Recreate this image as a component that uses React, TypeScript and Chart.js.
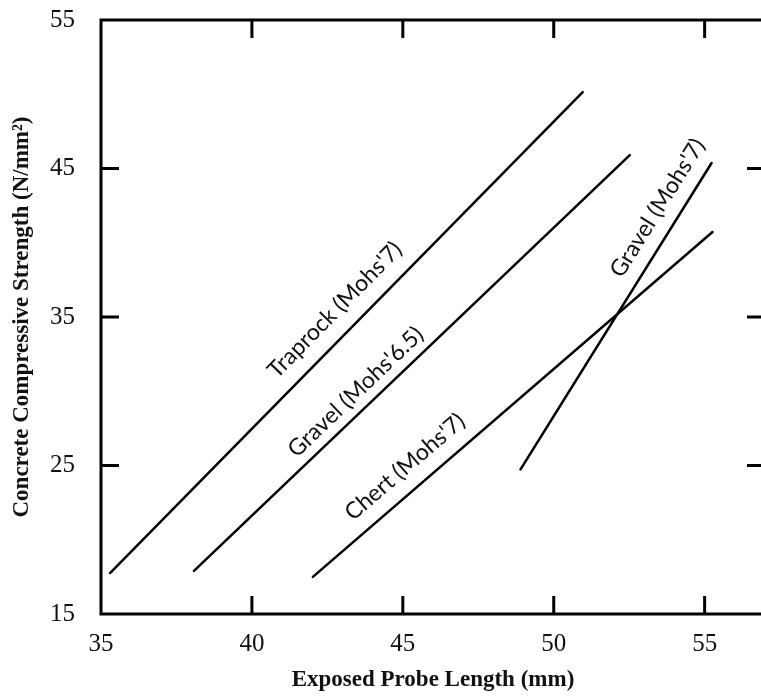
import React, { useEffect, useRef } from "react";
import { Chart, registerables } from "chart.js";

Chart.register(...registerables);

// ---- data ----
const seriesNames = ["Traprock (Mohs'7)", "Gravel (Mohs'6.5)", "Chert (Mohs'7)", "Gravel (Mohs'7)"];
const traprockX = [35.3, 50.96];
const traprockY = [17.76, 50.15];
const gravel65X = [38.08, 52.52];
const gravel65Y = [17.9, 45.9];
const chertX = [42.02, 55.26];
const chertY = [17.5, 40.72];
const gravel7X = [48.9, 55.23];
const gravel7Y = [24.74, 45.37];
const xTickValues = [35, 40, 45, 50, 55];
const yTickValues = [15, 25, 35, 45, 55];

// label anchors (data units) for the in-plot annotations
const labelAnchorX = [42.75, 43.44, 45.07, 53.44];
const labelAnchorY = [35.47, 29.95, 24.9, 42.34];

const seriesX = [traprockX, gravel65X, chertX, gravel7X];
const seriesY = [traprockY, gravel65Y, chertY, gravel7Y];

const serif = "'Liberation Serif', 'Times New Roman', serif";

const framePlugin = {
  id: "frame",
  afterDraw(chart: any) {
    const { ctx, chartArea } = chart;
    const xs = chart.scales.x;
    const ys = chart.scales.y;
    const { left, right, top, bottom } = chartArea;
    const tick = 18;
    ctx.save();
    ctx.strokeStyle = "#000";
    ctx.lineWidth = 3;
    ctx.lineCap = "butt";
    ctx.beginPath();
    ctx.moveTo(left, top);
    ctx.lineTo(right + 20, top);
    ctx.moveTo(left, top - 1.5);
    ctx.lineTo(left, bottom + 1.5);
    ctx.moveTo(left, bottom);
    ctx.lineTo(right + 20, bottom);
    xTickValues.forEach((v) => {
      if (v === xs.min || v === xs.max) return;
      const px = xs.getPixelForValue(v);
      ctx.moveTo(px, bottom);
      ctx.lineTo(px, bottom - tick);
      ctx.moveTo(px, top);
      ctx.lineTo(px, top + tick);
    });
    yTickValues.forEach((v) => {
      if (v === ys.min || v === ys.max) return;
      const py = ys.getPixelForValue(v);
      ctx.moveTo(left, py);
      ctx.lineTo(left + tick, py);
      ctx.moveTo(right, py);
      ctx.lineTo(right - tick, py);
    });
    ctx.stroke();

    // series annotations
    ctx.fillStyle = "#111";
    ctx.font = "23px Lato, 'Open Sans', sans-serif";
    ctx.textAlign = "center";
    ctx.textBaseline = "middle";
    seriesNames.forEach((name, i) => {
      const x0 = xs.getPixelForValue(seriesX[i][0]);
      const y0 = ys.getPixelForValue(seriesY[i][0]);
      const x1 = xs.getPixelForValue(seriesX[i][1]);
      const y1 = ys.getPixelForValue(seriesY[i][1]);
      const ang = Math.atan2(y1 - y0, x1 - x0);
      const ax = xs.getPixelForValue(labelAnchorX[i]);
      const ay = ys.getPixelForValue(labelAnchorY[i]);
      ctx.save();
      ctx.translate(ax, ay);
      ctx.rotate(ang);
      ctx.fillText(name, 0, 0);
      ctx.restore();
    });
    ctx.restore();
  },
};

export default function App() {
  const ref = useRef<HTMLCanvasElement | null>(null);
  useEffect(() => {
    if (!ref.current) return;
    const chart = new Chart(ref.current, {
      type: "scatter",
      data: {
        datasets: seriesNames.map((name, i) => ({
          label: name,
          data: seriesX[i].map((x, j) => ({ x, y: seriesY[i][j] })),
          showLine: true,
          borderColor: "#000",
          backgroundColor: "#000",
          borderWidth: 2.5,
          pointRadius: 0,
          borderCapStyle: "round" as const,
        })),
      },
      options: {
        responsive: false,
        animation: false,
        layout: { padding: { top: 20, right: 15, bottom: 0, left: 0 } },
        plugins: { legend: { display: false }, tooltip: { enabled: false } },
        scales: {
          x: {
            type: "linear",
            min: 35,
            max: 57,
            afterBuildTicks: (axis: any) => {
              axis.ticks = xTickValues.map((v) => ({ value: v }));
            },
            afterFit: (axis: any) => {
              axis.height = 82;
              axis.paddingLeft = 0;
              axis.paddingRight = 0;
            },
            grid: { display: false, drawTicks: false, tickLength: 0 },
            border: { display: false },
            ticks: {
              color: "#111",
              font: { family: serif, size: 25 },
              padding: 15,
              maxRotation: 0,
              autoSkip: false,
            },
            title: {
              display: true,
              text: "Exposed Probe Length (mm)",
              color: "#111",
              font: { family: serif, size: 23, weight: "bold" },
              padding: { top: 0, bottom: 2 },
            },
          },
          y: {
            type: "linear",
            min: 15,
            max: 55,
            afterBuildTicks: (axis: any) => {
              axis.ticks = yTickValues.map((v) => ({ value: v }));
            },
            afterFit: (axis: any) => {
              axis.width = 101;
              axis.paddingTop = 0;
              axis.paddingBottom = 0;
            },
            grid: { display: false, drawTicks: false, tickLength: 0 },
            border: { display: false },
            ticks: {
              color: "#111",
              font: { family: serif, size: 25 },
              padding: 26,
              autoSkip: false,
            },
            title: {
              display: true,
              text: "Concrete Compressive Strength (N/mm²)",
              color: "#111",
              font: { family: serif, size: 23, weight: "bold" },
              padding: { top: 8, bottom: 0 },
            },
          },
        },
      },
      plugins: [framePlugin],
    });
    return () => chart.destroy();
  }, []);
  return (
    <div
      style={{
        position: "absolute",
        left: 0,
        top: 0,
        width: 761,
        height: 696,
        overflow: "hidden",
        background: "#fff",
      }}
    >
      <canvas ref={ref} width={780} height={696} style={{ display: "block" }} />
    </div>
  );
}
